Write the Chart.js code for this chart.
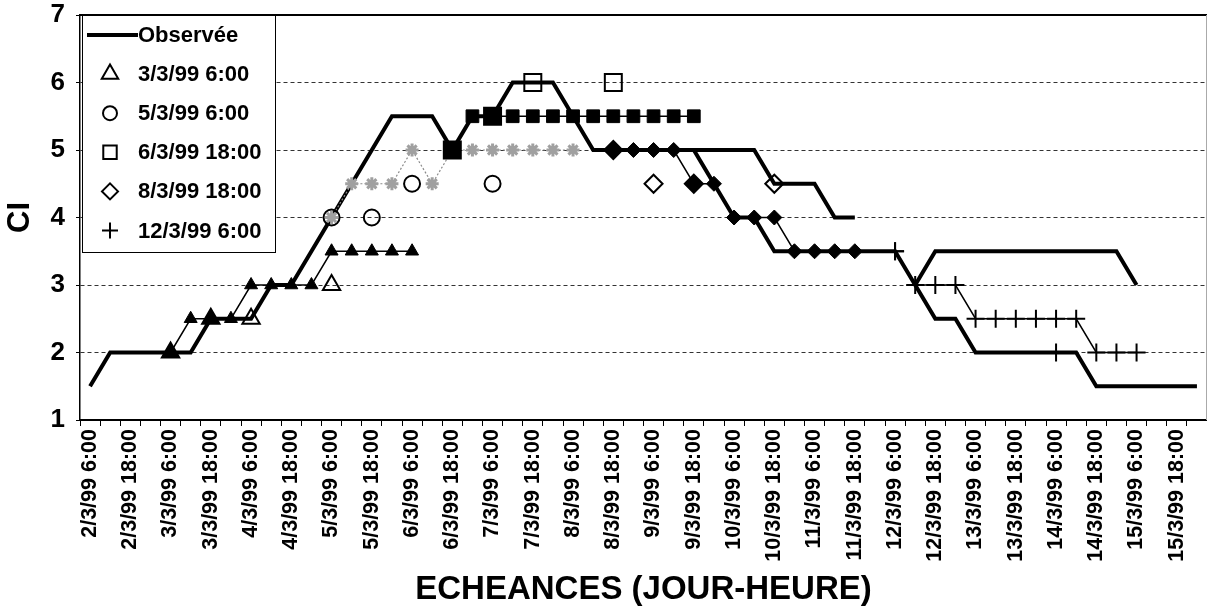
<!DOCTYPE html>
<html lang="fr">
<head>
<meta charset="utf-8">
<title>CI observée et prévue</title>
<script src="https://cdn.jsdelivr.net/npm/chart.js@4.4.0/dist/chart.umd.min.js"></script>
<style>
    html, body { margin: 0; padding: 0; background: #fff; overflow: hidden; }
    #wrap { position: relative; width: 1207px; height: 615px; overflow: hidden; }
    #chart { display: block; }
</style>
</head>
<body>
<div id="wrap"><canvas id="chart"></canvas></div>
<script>
const _ = null;

// Echeances, every 6 hours from 2/3/99 6:00 to 16/3/99 0:00.
const echeances = [
    "2/3/99 6:00", "2/3/99 12:00", "2/3/99 18:00",
    "3/3/99 0:00", "3/3/99 6:00", "3/3/99 12:00", "3/3/99 18:00",
    "4/3/99 0:00", "4/3/99 6:00", "4/3/99 12:00", "4/3/99 18:00",
    "5/3/99 0:00", "5/3/99 6:00", "5/3/99 12:00", "5/3/99 18:00",
    "6/3/99 0:00", "6/3/99 6:00", "6/3/99 12:00", "6/3/99 18:00",
    "7/3/99 0:00", "7/3/99 6:00", "7/3/99 12:00", "7/3/99 18:00",
    "8/3/99 0:00", "8/3/99 6:00", "8/3/99 12:00", "8/3/99 18:00",
    "9/3/99 0:00", "9/3/99 6:00", "9/3/99 12:00", "9/3/99 18:00",
    "10/3/99 0:00", "10/3/99 6:00", "10/3/99 12:00", "10/3/99 18:00",
    "11/3/99 0:00", "11/3/99 6:00", "11/3/99 12:00", "11/3/99 18:00",
    "12/3/99 0:00", "12/3/99 6:00", "12/3/99 12:00", "12/3/99 18:00",
    "13/3/99 0:00", "13/3/99 6:00", "13/3/99 12:00", "13/3/99 18:00",
    "14/3/99 0:00", "14/3/99 6:00", "14/3/99 12:00", "14/3/99 18:00",
    "15/3/99 0:00", "15/3/99 6:00", "15/3/99 12:00", "15/3/99 18:00",
    "16/3/99 0:00",
];

// Y ticks that carry a label.
const graduationsCI = [1, 2, 3, 4, 5, 6, 7];

// Observed CI.
const observee = [
    1.5, 2, 2, 2, 2, 2, 2.5, 2.5,
    2.5, 3, 3, 3.5, 4, 4.5, 5, 5.5,
    5.5, 5.5, 5, 5.5, 5.5, 6, 6, 6,
    5.5, 5, 5, 5, 5, 5, 5, 4.5,
    4, 4, 3.5, 3.5, 3.5, 3.5, 3.5, 3.5,
    3.5, 3, 2.5, 2.5, 2, 2, 2, 2,
    2, 2, 1.5, 1.5, 1.5, 1.5, 1.5, 1.5,
];

// Other thick curves.
const ligneA = [
    _, _, _, _, _, _, _, _,
    _, _, _, _, _, _, _, _,
    _, _, _, _, _, _, _, _,
    _, _, _, _, _, _, 5, 5,
    5, 5, 4.5, 4.5, 4.5, 4, 4, _,
    _, _, _, _, _, _, _, _,
    _, _, _, _, _, _, _, _,
];
const ligneC = [
    _, _, _, _, _, _, _, _,
    _, _, _, _, _, _, _, _,
    _, _, _, _, _, _, _, _,
    _, _, _, _, _, _, _, _,
    _, _, _, _, _, _, _, _,
    _, 3, 3.5, 3.5, 3.5, 3.5, 3.5, 3.5,
    3.5, 3.5, 3.5, 3.5, 3, _, _, _,
];

// Forecasts (filled markers, thin line).
const prev0303 = [
    _, _, _, _, 2, 2.5, 2.5, 2.5,
    3, 3, 3, 3, 3.5, 3.5, 3.5, 3.5,
    3.5, _, _, _, _, _, _, _,
    _, _, _, _, _, _, _, _,
    _, _, _, _, _, _, _, _,
    _, _, _, _, _, _, _, _,
    _, _, _, _, _, _, _, _,
];
const prev0503 = [
    _, _, _, _, _, _, _, _,
    _, _, _, _, 4, 4.5, 4.5, 4.5,
    5, 4.5, 5, 5, 5, 5, 5, 5,
    5, _, _, _, _, _, _, _,
    _, _, _, _, _, _, _, _,
    _, _, _, _, _, _, _, _,
    _, _, _, _, _, _, _, _,
];
const prev0603 = [
    _, _, _, _, _, _, _, _,
    _, _, _, _, _, _, _, _,
    _, _, 5, 5.5, 5.5, 5.5, 5.5, 5.5,
    5.5, 5.5, 5.5, 5.5, 5.5, 5.5, 5.5, _,
    _, _, _, _, _, _, _, _,
    _, _, _, _, _, _, _, _,
    _, _, _, _, _, _, _, _,
];
const prev0803 = [
    _, _, _, _, _, _, _, _,
    _, _, _, _, _, _, _, _,
    _, _, _, _, _, _, _, _,
    _, _, 5, 5, 5, 5, 4.5, 4.5,
    4, 4, 4, 3.5, 3.5, 3.5, 3.5, _,
    _, _, _, _, _, _, _, _,
    _, _, _, _, _, _, _, _,
];
const prev1203 = [
    _, _, _, _, _, _, _, _,
    _, _, _, _, _, _, _, _,
    _, _, _, _, _, _, _, _,
    _, _, _, _, _, _, _, _,
    _, _, _, _, _, _, _, _,
    3.5, 3, 3, 3, 2.5, 2.5, 2.5, 2.5,
    2.5, 2.5, 2, 2, 2, _, _, _,
];

// Hollow markers of each run.
const autres0303 = [
    _, _, _, _, 2, _, 2.5, _,
    2.5, _, _, _, 3, _, _, _,
    _, _, _, _, _, _, _, _,
    _, _, _, _, _, _, _, _,
    _, _, _, _, _, _, _, _,
    _, _, _, _, _, _, _, _,
    _, _, _, _, _, _, _, _,
];
const autres0503 = [
    _, _, _, _, _, _, _, _,
    _, _, _, _, 4, _, 4, _,
    4.5, _, _, _, 4.5, _, _, _,
    _, _, _, _, _, _, _, _,
    _, _, _, _, _, _, _, _,
    _, _, _, _, _, _, _, _,
    _, _, _, _, _, _, _, _,
];
const autres0603 = [
    _, _, _, _, _, _, _, _,
    _, _, _, _, _, _, _, _,
    _, _, 5, _, 5.5, _, 6, _,
    _, _, 6, _, _, _, _, _,
    _, _, _, _, _, _, _, _,
    _, _, _, _, _, _, _, _,
    _, _, _, _, _, _, _, _,
];
const autres0803 = [
    _, _, _, _, _, _, _, _,
    _, _, _, _, _, _, _, _,
    _, _, _, _, _, _, _, _,
    _, _, 5, _, 4.5, _, 4.5, _,
    _, _, 4.5, _, _, _, _, _,
    _, _, _, _, _, _, _, _,
    _, _, _, _, _, _, _, _,
];
const autres1203 = [
    _, _, _, _, _, _, _, _,
    _, _, _, _, _, _, _, _,
    _, _, _, _, _, _, _, _,
    _, _, _, _, _, _, _, _,
    _, _, _, _, _, _, _, _,
    3.5, _, _, _, _, _, _, _,
    2, _, _, _, _, _, _, _,
];

// Legend texts.
const legendeTextes = ["Observée", "3/3/99 6:00", "5/3/99 6:00", "6/3/99 18:00", "8/3/99 18:00", "12/3/99 6:00"];

const POLICE = '"Liberation Sans", Arial, sans-serif';
Chart.defaults.font.family = POLICE;
Chart.defaults.color = '#000';

// Hollow marker dataset (no line). Where it sits on the forecast value,
// the marker is filled so both read as one bigger solid mark.
function creux(data, prev, style, radius) {
    return {
        data: data,
        showLine: false,
        pointStyle: style,
        pointRadius: radius,
        pointBorderWidth: 2,
        pointBorderColor: '#000',
        pointBackgroundColor: (ctx) => (prev && prev[ctx.dataIndex] === data[ctx.dataIndex]) ? '#000' : 'rgba(0,0,0,0)',
    };
}

// Forecast dataset: thin line with filled markers.
function prevision(data, style, radius) {
    return {
        data: data,
        borderColor: '#000',
        borderWidth: 1.5,
        pointStyle: style,
        pointRadius: radius,
        pointBorderWidth: style == 'cross' ? 2 : 1,
        pointBorderColor: '#000',
        pointBackgroundColor: '#000',
    };
}

// Thick black line.
function epais(data) {
    return {
        data: data,
        borderColor: '#000',
        borderWidth: 4,
        pointRadius: 0,
    };
}

const grise = {
    data: prev0503,
    borderColor: '#8a8a8a',
    borderWidth: 1.2,
    borderDash: [2, 2],
    pointStyle: 'star',
    pointRadius: 6.5,
    pointBorderWidth: 3,
    pointBorderColor: '#a0a0a0',
    pointBackgroundColor: 'rgba(0,0,0,0)',
};

// Top frame line, faint right edge and the legend box.
const cadreLegende = {
    id: 'cadreLegende',
    afterDraw(chart) {
        const { ctx, chartArea } = chart;
        ctx.save();

        ctx.strokeStyle = '#000';
        ctx.lineWidth = 2;
        ctx.beginPath();
        ctx.moveTo(chartArea.left, chartArea.top);
        ctx.lineTo(chartArea.right, chartArea.top);
        ctx.stroke();

        ctx.strokeStyle = '#aaa';
        ctx.lineWidth = 1;
        ctx.beginPath();
        ctx.moveTo(chartArea.right - 0.5, chartArea.top);
        ctx.lineTo(chartArea.right - 0.5, chartArea.bottom);
        ctx.stroke();

        const x0 = chartArea.left + 2, y0 = chartArea.top, w = 193, h = 237;
        ctx.fillStyle = '#fff';
        ctx.fillRect(x0, y0, w, h);
        ctx.strokeStyle = '#000';
        ctx.lineWidth = 1;
        ctx.strokeRect(x0 + 0.5, y0 + 0.5, w, h);

        const symboles = [
            null,
            { pointStyle: 'triangle', radius: 9.5 },
            { pointStyle: 'circle', radius: 7 },
            { pointStyle: 'rect', radius: 9.5 },
            { pointStyle: 'rectRot', radius: 8 },
            { pointStyle: 'cross', radius: 8 },
        ];

        ctx.font = 'bold 22px ' + POLICE;
        ctx.textBaseline = 'middle';
        ctx.textAlign = 'left';

        legendeTextes.forEach((texte, i) => {
            const y = y0 + 20 + i * 39.1;

            if (i == 0) {
                ctx.strokeStyle = '#000';
                ctx.lineWidth = 4;
                ctx.beginPath();
                ctx.moveTo(x0 + 5, y);
                ctx.lineTo(x0 + 56, y);
                ctx.stroke();
            }
            else if (Chart.helpers && Chart.helpers.drawPoint) {
                ctx.strokeStyle = '#000';
                ctx.fillStyle = 'rgba(0,0,0,0)';
                ctx.lineWidth = 2;
                Chart.helpers.drawPoint(ctx, Object.assign({ borderWidth: 2, rotation: 0 }, symboles[i]), x0 + 28, y);
            }

            ctx.fillStyle = '#000';
            ctx.fillText(texte, x0 + 56, y + 1);
        });

        ctx.restore();
    }
};

const data = {
    labels: echeances,
    datasets: [
        creux(autres0303, prev0303, 'triangle', 10),
        creux(autres0503, null, 'circle', 8),
        creux(autres0603, prev0603, 'rect', 12),
        creux(autres0803, prev0803, 'rectRot', 9),
        creux(autres1203, null, 'cross', 9),
        prevision(prev0303, 'triangle', 7.5),
        grise,
        prevision(prev0603, 'rect', 9),
        prevision(prev0803, 'rectRot', 7.5),
        prevision(prev1203, 'cross', 9),
        epais(observee),
        epais(ligneA),
        epais(ligneC),
    ],
};

const config = {
    type: 'line',
    data: data,
    options: {
        responsive: true,
        maintainAspectRatio: false,
        animation: false,
        events: [],
        layout: {
            autoPadding: false,
            padding: { top: 15, right: 0, left: 0, bottom: 0 },
        },
        elements: { line: { tension: 0 } },
        plugins: {
            legend: { display: false },
            tooltip: { enabled: false },
        },
        scales: {
            x: {
                offset: true,
                grid: {
                    offset: true,
                    drawOnChartArea: false,
                    drawTicks: true,
                    tickLength: 6,
                    color: '#000',
                },
                border: { display: true, color: '#000', width: 2 },
                ticks: {
                    autoSkip: false,
                    minRotation: 90,
                    maxRotation: 90,
                    padding: 3,
                    font: { size: 21.5, weight: 'bold' },
                    callback: function (value, index) {
                        return index % 2 == 0 ? this.getLabelForValue(value) : '';
                    },
                },
                title: {
                    display: true,
                    text: 'ECHEANCES (JOUR-HEURE)',
                    font: { size: 33, weight: 'bold' },
                    padding: { top: 0, bottom: 5 },
                },
                afterFit(scale) {
                    scale.height = 195;
                    scale.paddingLeft = 0;
                    scale.paddingRight = 0;
                },
            },
            y: {
                min: 1,
                max: 7,
                ticks: {
                    stepSize: 0.5,
                    autoSkip: false,
                    padding: 11,
                    font: { size: 26, weight: 'bold' },
                    callback: (value) => graduationsCI.includes(value) ? String(value) : '',
                },
                grid: {
                    lineWidth: 1,
                    tickLength: 4,
                    color: (ctx) => {
                        const v = ctx.tick ? ctx.tick.value : 0;
                        return (Number.isInteger(v) && v > 1 && v < 7) ? '#333' : 'rgba(0,0,0,0)';
                    },
                    tickColor: (ctx) => (ctx.tick && Number.isInteger(ctx.tick.value)) ? '#000' : 'rgba(0,0,0,0)',
                    tickBorderDash: [],
                },
                border: { display: true, color: '#000', width: 1.5, dash: [4, 3] },
                title: {
                    display: true,
                    text: 'CI',
                    font: { size: 31, weight: 'bold' },
                    padding: { top: 2, bottom: 0 },
                },
                afterFit(scale) {
                    scale.width = 80;
                    scale.paddingTop = 0;
                    scale.paddingBottom = 0;
                },
            },
        },
    },
    plugins: [cadreLegende],
};

window.myChart = new Chart(document.getElementById('chart'), config);
</script>
</body>
</html>
